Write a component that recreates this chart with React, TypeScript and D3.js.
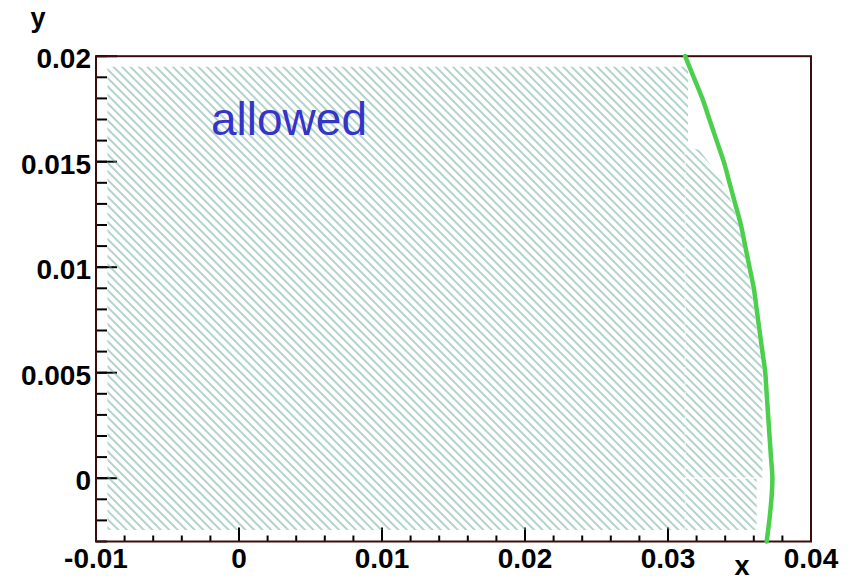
import React from "react";
import * as d3 from "d3";

// ---- data ----
const xMajorTicks = [-0.01, 0, 0.01, 0.02, 0.03, 0.04];
const xTickLabels = ["-0.01", "0", "0.01", "0.02", "0.03", "0.04"];
const yMajorTicks = [0, 0.005, 0.01, 0.015, 0.02];
const yTickLabels = ["0", "0.005", "0.01", "0.015", "0.02"];

// green boundary curve (x as function of y)
const curveY = [0.02, 0.019, 0.018, 0.017, 0.016, 0.015, 0.014, 0.013, 0.012, 0.011, 0.01, 0.009, 0.008, 0.007, 0.006, 0.005, 0.004, 0.003, 0.002, 0.001, 0.0, -0.003];
const curveX = [0.0312, 0.0318, 0.0324, 0.0329, 0.0334, 0.0339, 0.0343, 0.0347, 0.0351, 0.0354, 0.0357, 0.036, 0.0362, 0.0364, 0.0366, 0.0368, 0.0369, 0.037, 0.0371, 0.0372, 0.0373, 0.0369];

// hatched "allowed" region outline
const regionX = [-0.0092, 0.0314, 0.0314, 0.0322, 0.0336, 0.0345, 0.035, 0.0359, 0.0366, 0.0366, 0.0362, 0.0362, -0.0092];
const regionY = [0.0195, 0.0195, 0.0157, 0.01555, 0.0143, 0.013, 0.0119, 0.0086, 0.0051, 0.0, 0.0, -0.00245, -0.00245];

// seams between polygon pieces
const seamX = [0.0312, 0.0366];
const seamY = [0.0, 0.0157];

const W = 852;
const H = 582;
const L = 96, R = 811, T = 56.2, B = 541.5;

export default function App() {
  const x = d3.scaleLinear().domain([-0.01, 0.04]).range([L, R]);
  const y = d3.scaleLinear().domain([-0.003, 0.02]).range([B, T]);

  const xMinor = d3.range(-0.01, 0.04 + 1e-9, 0.002);
  const yMinor = d3.range(-0.003, 0.02 + 1e-9, 0.001);

  const curvePts: [number, number][] = curveY.map((v, i) => [curveX[i], v]);
  const curvePath = d3
    .line<[number, number]>()
    .x((d) => x(d[0]))
    .y((d) => y(d[1]))
    .curve(d3.curveMonotoneY)(curvePts.slice().reverse()) as string;

  const regionPts: [number, number][] = regionX.map((v, i) => [v, regionY[i]]);
  const regionPath =
    (d3
      .line<[number, number]>()
      .x((d) => x(d[0]))
      .y((d) => y(d[1]))(regionPts) as string) + "Z";

  const tickFont = "'Liberation Sans', Arial, sans-serif";
  const frameColor = "#3b0d0d";

  return (
    <svg
      width={W}
      height={H}
      style={{ position: "absolute", left: 0, top: 0, background: "#fff" }}
    >
      <defs>
        <pattern
          id="hatch"
          patternUnits="userSpaceOnUse"
          width={6}
          height={6}
          patternTransform="rotate(45)"
        >
          <line x1={-1} y1={3} x2={7} y2={3} stroke="#66a696" strokeWidth={1} />
        </pattern>
      </defs>
      <rect x={0} y={0} width={W} height={H} fill="#fff" />

      {/* y ticks */}
      {yMinor.map((v, i) => (
        <line key={"ym" + i} x1={L} x2={L + 11} y1={y(v)} y2={y(v)} stroke="#000" strokeWidth={2} />
      ))}
      {yMajorTicks.map((v, i) => (
        <line key={"yM" + i} x1={L} x2={L + 21} y1={y(v)} y2={y(v)} stroke="#000" strokeWidth={2} />
      ))}
      {/* x ticks */}
      {xMinor.map((v, i) => (
        <line key={"xm" + i} x1={x(v)} x2={x(v)} y1={B} y2={B - 6} stroke="#000" strokeWidth={2} />
      ))}
      {xMajorTicks.map((v, i) => (
        <line key={"xM" + i} x1={x(v)} x2={x(v)} y1={B} y2={B - 14} stroke="#000" strokeWidth={2} />
      ))}

      {/* hatched allowed region */}
      <path d={regionPath} fill="url(#hatch)" stroke="none" />
      <line x1={x(seamX[0])} x2={x(seamX[0])} y1={y(seamY[1])} y2={y(-0.00245)} stroke="#fff" strokeWidth={1} strokeDasharray="3,2" />
      <line x1={x(seamX[0])} x2={x(seamX[1])} y1={y(seamY[0])} y2={y(seamY[0])} stroke="#fff" strokeWidth={1.2} />

      {/* frame */}
      <rect x={L} y={T} width={R - L} height={B - T} fill="none" stroke={frameColor} strokeWidth={2} />

      {/* green curve */}
      <path d={curvePath} fill="none" stroke="#4ccf4c" strokeWidth={4.5} strokeLinecap="round" strokeLinejoin="round" />

      {/* label */}
      <text x={211} y={135} fontFamily={tickFont} fontSize={46} fill="#3434c8">
        allowed
      </text>

      {/* tick labels */}
      {yMajorTicks.map((v, i) => (
        <text
          key={"yl" + i}
          x={91}
          y={y(v) + 12}
          textAnchor="end"
          fontFamily={tickFont}
          fontWeight="bold"
          fontSize={28}
          fill="#000"
        >
          {yTickLabels[i]}
        </text>
      ))}
      {xMajorTicks.map((v, i) => (
        <text
          key={"xl" + i}
          x={x(v)}
          y={568}
          textAnchor="middle"
          fontFamily={tickFont}
          fontWeight="bold"
          fontSize={28}
          fill="#000"
        >
          {xTickLabels[i]}
        </text>
      ))}

      {/* axis titles */}
      <text x={742} y={575} textAnchor="middle" fontFamily={tickFont} fontWeight="bold" fontSize={27} fill="#000">
        x
      </text>
      <text x={38} y={27} textAnchor="middle" fontFamily={tickFont} fontWeight="bold" fontSize={27} fill="#000">
        y
      </text>
    </svg>
  );
}
